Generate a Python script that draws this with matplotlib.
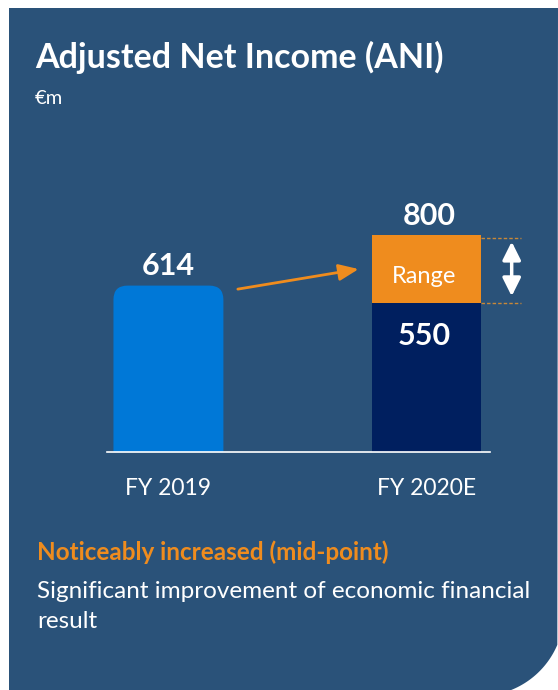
import numpy as np
import matplotlib
matplotlib.use("Agg")
import matplotlib.pyplot as plt
from matplotlib.patches import Polygon, FancyBboxPatch

# data
categories = ["FY 2019", "FY 2020E"]
ani_2019 = 614
range_low = 550
range_high = 800

bg = "#2A5279"
blue = "#0078D7"
navy = "#001F5F"
orange = "#EF8C1E"
W, H = 558, 690

plt.rcParams["font.family"] = ["Lato", "DejaVu Sans"]

fig = plt.figure(figsize=(W / 100, H / 100), dpi=100)
fig.patch.set_facecolor("white")


def fx(x):
    return x / W


def fy(y):
    return 1 - y / H


# background panel with round bottom-right corner
cx, cy, r = 480, 78, 84
a = np.radians(np.linspace(-23, -74, 40))
arc = [(cx + r * np.cos(t), cy + r * np.sin(t)) for t in a]
pts = [(9, H - 8), (W, H - 8)] + arc + [(9, 0)]
pts = [(x / W, y / H) for x, y in pts]
fig.patches.append(Polygon(pts, closed=True, transform=fig.transFigure,
                           facecolor=bg, edgecolor="none", zorder=-5))

fig.text(fx(35), fy(57), "Adjusted Net Income (ANI)", color="white",
         fontsize=24.5, fontweight="bold", va="center", ha="left")
fig.text(fx(35), fy(98), "€m", color="white", fontsize=14.5, va="center")

# bar axes: y=0 at baseline, 0.271 px per unit
x_left, x_right = 107, 490
base_px, top_px = 452, 200
ax = fig.add_axes([fx(x_left), fy(base_px), (x_right - x_left) / W, (base_px - top_px) / H])
ax.set_xlim(-0.238, 1.246)
ax.set_ylim(0, (base_px - top_px) / 0.271)
ax.axis("off")
ax.axhline(0, color="white", lw=1.2, zorder=5, clip_on=False)

bw = 0.426
x = np.arange(len(categories))
bars = ax.bar(x[0], ani_2019, width=bw, color=blue)
bars[0].set_visible(False)
rx = 14 / 258
ry = 14 / 0.271
ax.add_patch(FancyBboxPatch((x[0] - bw / 2, -60), bw, ani_2019 + 60,
                            boxstyle=f"round,pad=0,rounding_size={rx}",
                            mutation_aspect=ry / rx, facecolor=blue,
                            edgecolor="none", zorder=2))
ax.bar(x[1], range_low, width=bw, color=navy, zorder=2)
ax.bar(x[1], range_high - range_low, bottom=range_low, width=bw, color=orange, zorder=2)

lbl = dict(color="white", fontsize=22, fontweight="bold", ha="center", va="center",
           textcoords="offset points")
ax.annotate(str(ani_2019), (x[0], ani_2019), xytext=(0, 14), **lbl)
ax.annotate(str(range_high), (x[1] + 0.01, range_high), xytext=(0, 14), **lbl)
ax.annotate(str(range_low), (x[1] - 0.01, range_low), xytext=(0, -24), **lbl)
mid = (range_low + range_high) / 2
ax.annotate("Range", (x[1] - 0.01, mid), xytext=(0, -5), textcoords="offset points",
            color="white", fontsize=17, ha="center", va="center")

# trend arrow
ax.annotate("", xy=(x[1] - bw / 2 - 0.05, mid), xytext=(x[0] + bw / 2 + 0.056, ani_2019 - 13),
            arrowprops=dict(arrowstyle="-|>,head_length=1.2,head_width=0.5",
                            color=orange, lw=2, shrinkA=0, shrinkB=0))

# range markers
for v in (range_low, range_high):
    ax.plot([x[1] + bw / 2, x[1] + bw / 2 + 0.155], [v - (11 if v == range_high else 0)] * 2,
            ls=(0, (2.5, 1.5)), color="#C88838", lw=1, clip_on=False)
ax.annotate("", xy=(x[1] + 0.33, range_high - 24), xytext=(x[1] + 0.33, range_low + 25),
            arrowprops=dict(arrowstyle="<|-|>,head_length=1.1,head_width=0.55",
                            color="white", lw=2.5, shrinkA=0, shrinkB=0),
            annotation_clip=False)

for i, c in enumerate(categories):
    ax.annotate(c, (x[i], 0), xytext=(0, -26), textcoords="offset points",
                color="white", fontsize=16.5, ha="center", va="center")

fig.text(fx(37), fy(552), "Noticeably increased (mid-point)", color=orange,
         fontsize=17.5, fontweight="bold", va="center")
fig.text(fx(37), fy(592), "Significant improvement of economic financial", color="white",
         fontsize=17.5, va="center")
fig.text(fx(37), fy(622), "result", color="white", fontsize=17.5, va="center")

fig.savefig("out.png", dpi=100, facecolor=fig.get_facecolor())
